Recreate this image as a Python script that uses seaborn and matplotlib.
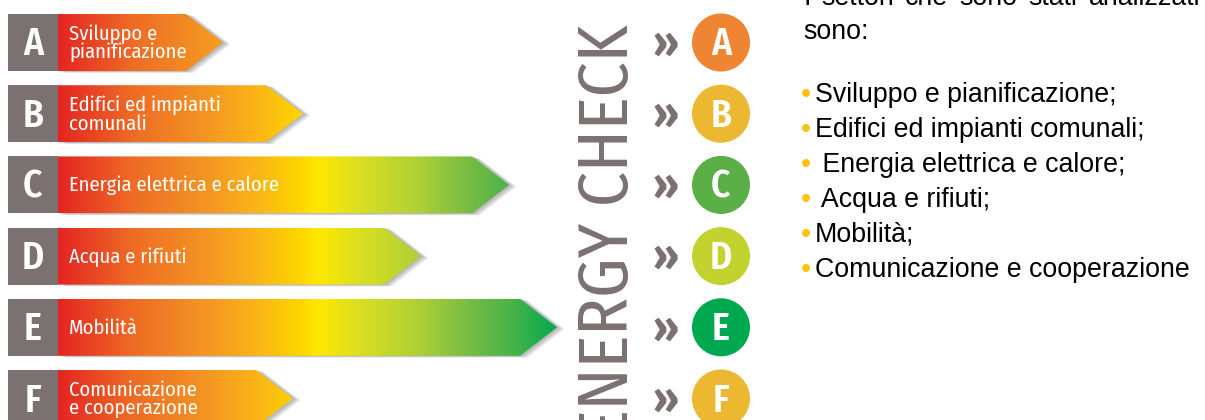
import numpy as np
import pandas as pd
import matplotlib
matplotlib.use("Agg")
import matplotlib.pyplot as plt
import seaborn as sns
from matplotlib.colors import LinearSegmentedColormap
from matplotlib.patches import Polygon
from matplotlib import font_manager

# dati
lettere = ['A', 'B', 'C', 'D', 'E', 'F']
settori = ['Sviluppo e\npianificazione', 'Edifici ed impianti\ncomunali',
           'Energia elettrica e calore', 'Acqua e rifiuti', 'Mobilità',
           'Comunicazione\ne cooperazione']
lunghezze = [215, 295, 501, 413, 549, 285]   # punta della freccia (px dal box grigio)
colori_check = ['#ef8533', '#ecb731', '#5aaf46', '#c4d22f', '#00a84f', '#ecb731']
intro = ['I', 'settori', 'che', 'sono', 'stati', 'analizzati']
elenco = ['Sviluppo e pianificazione;', 'Edifici ed impianti comunali;',
          ' Energia elettrica e calore;', ' Acqua e rifiuti;', 'Mobilità;',
          'Comunicazione e cooperazione']

# geometria in pixel
W, H = 1205, 420
ROW0, PASSO = 42.5, 71.2
X0 = 8
BOX = 50
PUNTA = 37
GRIGIO = '#7b7170'

disponibili = {f.name for f in font_manager.fontManager.ttflist}
STRETTO = next((f for f in ['Fira Sans Condensed', 'Asap Condensed', 'Encode Sans Condensed',
                            'Barlow Condensed', 'Archivo Narrow', 'Liberation Sans Narrow']
                if f in disponibili), 'DejaVu Sans')
ARIAL = 'Liberation Sans'


def ycat(p):
    return (p - ROW0) / PASSO


def xd(p):
    return p - X0


def fx(p):
    return p / W


def fy(p):
    return 1 - p / H


sns.set_theme(style="white")
fig = plt.figure(figsize=(W / 100, H / 100), dpi=100)
ax = fig.add_axes([0, 0, 1, 1])

df = pd.DataFrame({'lettera': lettere, 'box': [BOX] * 6, 'punta': lunghezze})

# box grigi con la lettera
sns.barplot(data=df, x='box', y='lettera', color=GRIGIO, saturation=1,
            width=0.8, linewidth=0, ax=ax, zorder=3)

# frecce con sfumatura rosso -> verde
stop_px = [58, 130, 200, 250, 300, 318, 360, 420, 470, 510, 560]
stop_col = ['#e42522', '#ee6a25', '#f39223', '#fab01a', '#fdd500', '#ffe800',
            '#dadf20', '#aed036', '#77bc43', '#4cb449', '#00a94f']
pos = [(p - stop_px[0]) / (stop_px[-1] - stop_px[0]) for p in stop_px]
cmap = LinearSegmentedColormap.from_list('energia', list(zip(pos, stop_col)))
grad = cmap(np.linspace(0, 1, 800))[None, :, :]

h = 0.4
for i, t in enumerate(df['punta']):
    verts = [(BOX, i - h), (t - PUNTA, i - h), (t, i), (t - PUNTA, i + h), (BOX, i + h)]
    for off in [1.5, 3, 4.5, 6, 7.5]:
        ombra = [(x + off, y + off * 0.25 / PASSO) for x, y in verts]
        ax.add_patch(Polygon(ombra, closed=True, facecolor='#555555',
                             alpha=0.10, edgecolor='none', zorder=1))
    freccia = Polygon(verts, closed=True, facecolor='none', edgecolor='none', zorder=2)
    ax.add_patch(freccia)
    im = ax.imshow(grad, extent=[xd(58), xd(560), i + h, i - h],
                   aspect='auto', zorder=2, interpolation='bilinear')
    im.set_clip_path(freccia)

for i, (lett, testo) in enumerate(zip(lettere, settori)):
    ax.text(xd(33), ycat(ROW0 + PASSO * i + 13), lett, ha='center', va='baseline',
            color='white', fontsize=27, fontweight='semibold', family=STRETTO, zorder=4)
    ax.text(xd(69), i + 0.01, testo, ha='left', va='center', color='white',
            fontsize=14.8, fontweight='normal', family=STRETTO, linespacing=0.95, zorder=4)

# cerchi energy check
sns.scatterplot(data=df, x=[xd(721)] * 6, y='lettera', hue='lettera',
                palette=colori_check, s=1747, linewidth=0, legend=False,
                ax=ax, zorder=3)
for i, lett in enumerate(lettere):
    yc = ROW0 + PASSO * i
    ax.text(xd(721), ycat(yc + 13), lett, ha='center', va='baseline',
            color='white', fontsize=27, fontweight='semibold', family=STRETTO, zorder=4)
    ax.text(xd(666), ycat(yc + 14), '»', ha='center', va='baseline',
            color=GRIGIO, fontsize=32, fontweight='bold', family=STRETTO, zorder=4)

ax.set_xlim(xd(0), xd(W))
ax.set_ylim(ycat(H), ycat(0))
ax.set_axis_off()

fig.text(fx(628), fy(25), 'ENERGY CHECK', rotation=90, rotation_mode='anchor',
         ha='right', va='baseline', fontsize=50, fontweight='normal',
         color=GRIGIO, family=STRETTO)

# testo a destra
renderer = fig.canvas.get_renderer()
parole = [fig.text(fx(803), fy(5), w, ha='left', va='baseline', fontsize=19.3,
                   family=ARIAL, color='black') for w in intro]
larghezze = [t.get_window_extent(renderer).width for t in parole]
spazio = (1200 - 803 - sum(larghezze)) / (len(parole) - 1)
x = 803
for t, w in zip(parole, larghezze):
    t.set_x(fx(x))
    x += w + spazio

fig.text(fx(803), fy(39), 'sono:', ha='left', va='baseline', fontsize=19.3,
         family=ARIAL, color='black')
for j, voce in enumerate(elenco):
    yb = 102 + 35 * j
    fig.text(fx(801), fy(yb + 1), '•', ha='left', va='baseline', fontsize=21,
             family=ARIAL, color='#fcc30b')
    fig.text(fx(815), fy(yb), voce, ha='left', va='baseline', fontsize=19.3,
             family=ARIAL, color='black')

fig.savefig('out.png', dpi=100)
